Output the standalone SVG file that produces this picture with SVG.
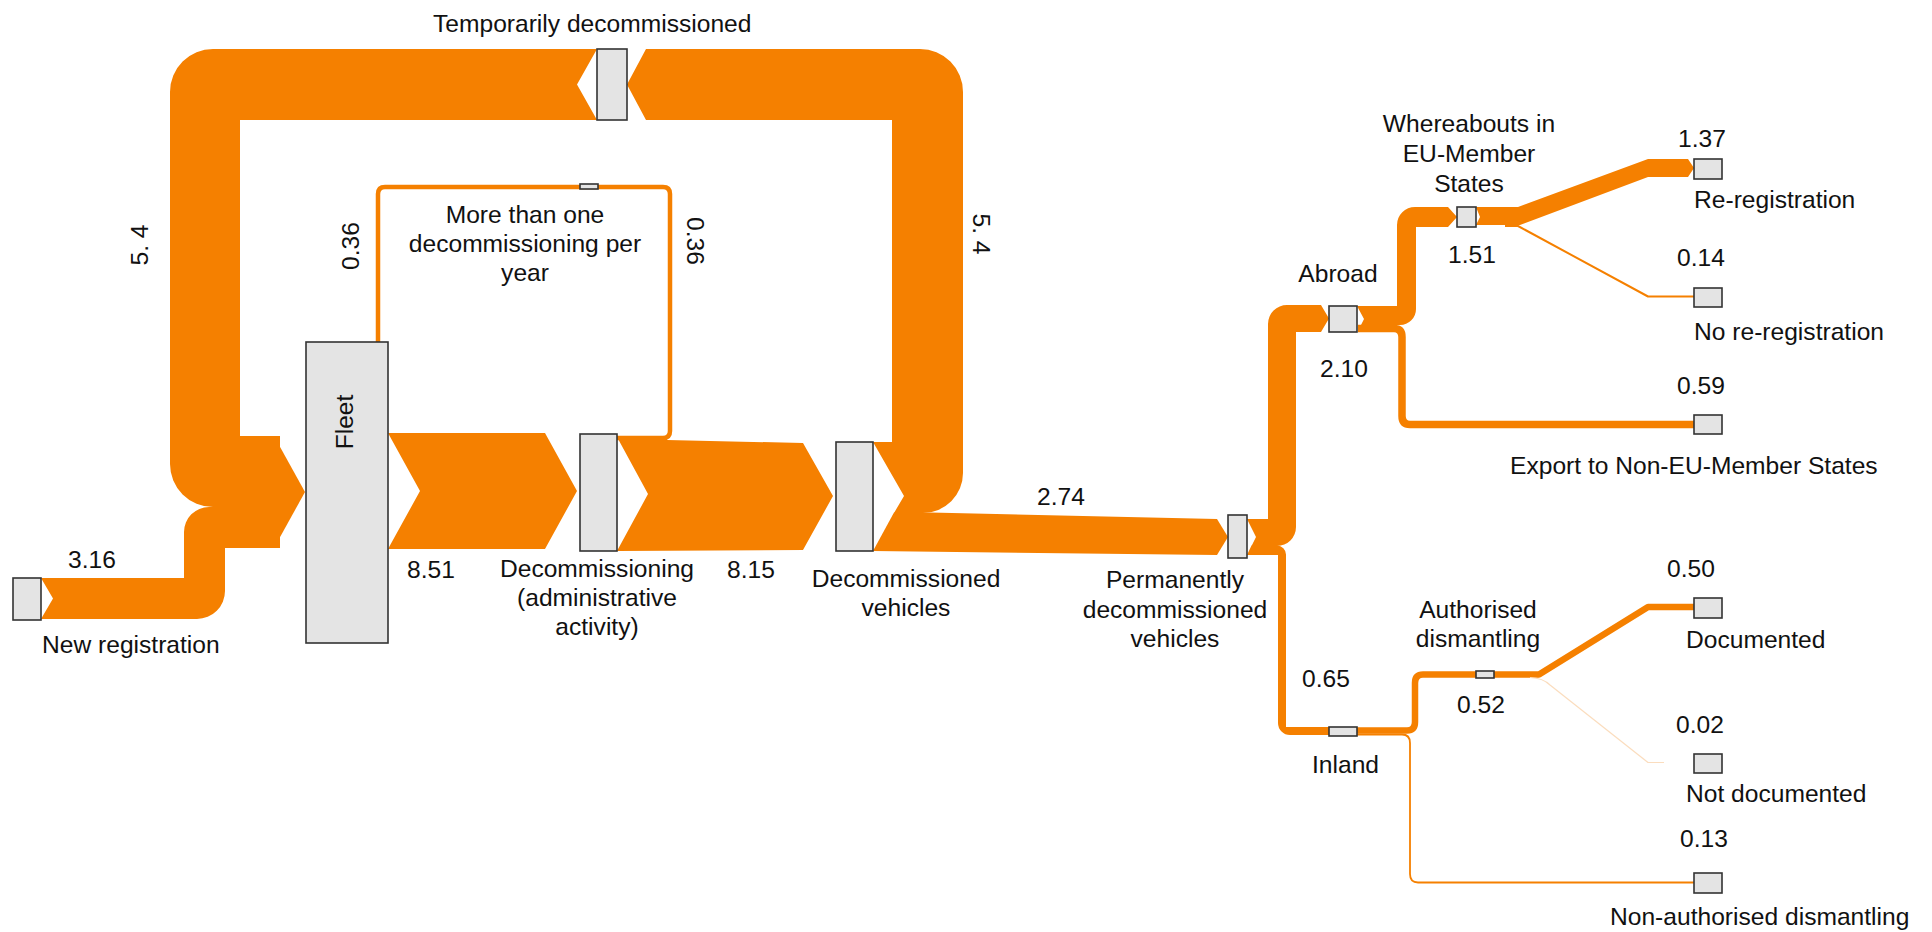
<svg xmlns="http://www.w3.org/2000/svg" width="1932" height="932" viewBox="0 0 1932 932">
  <style>
    .flow { fill: #F58000; stroke: none; }
    .line { fill: none; stroke: #F58000; stroke-linejoin: round; }
    .faint { fill: none; stroke: #FBDDBE; stroke-linejoin: round; }
    .node { fill: #E4E4E4; stroke: #333333; stroke-width: 1.6; }
    text { font-family: "Liberation Sans", Arial, sans-serif; font-size: 24.6px; fill: #111111; }
    .mid { text-anchor: middle; }
  </style>
  <rect width="1932" height="932" fill="#FFFFFF"/>

  <!-- flows, drawn under the nodes -->
  <g id="connectors">
    <!-- Temporarily decommissioned -> Fleet (5.4) -->
    <path class="flow" d="M 597 49 L 213 49 A 43 43 0 0 0 170 92 L 170 464 A 43 43 0 0 0 213 507 L 280 507 L 280 436 L 240 436 L 240 120 L 597 120 L 577 84.5 Z"/>
    <!-- New registration -> Fleet (3.16) -->
    <path class="flow" d="M 41 578 L 184 578 L 184 532 A 25 25 0 0 1 209 507 L 280 507 L 280 548 L 225 548 L 225 591 A 28 28 0 0 1 197 619 L 41 619 L 53 598.5 Z"/>
    <!-- merged arrow head into Fleet -->
    <path class="flow" d="M 272 436 L 274 436 L 305 492 L 274 548 L 272 548 Z"/>
    <!-- Fleet -> Decommissioning (8.51) -->
    <path class="flow" d="M 388 433 L 545 433 L 577 491 L 545 549 L 388 549 L 420 491 Z"/>
    <!-- Decommissioning -> More than one decommissioning per year -> Fleet (0.36) -->
    <path class="line" stroke-width="4.5" d="M 617 438 H 663 Q 670 438 670 431 V 194 Q 670 187 663 187 H 385 Q 378 187 378 194 V 343"/>
    <!-- Decommissioning -> Decommissioned vehicles (8.15) -->
    <path class="flow" d="M 617 437 L 667 437 L 667 440 L 803 443 L 833 496 L 803 550 L 617 551 L 648 494 Z"/>
    <!-- Decommissioned vehicles -> Temporarily decommissioned (5.4) -->
    <path class="flow" d="M 873 442 L 892 442 L 892 120 L 646 120 L 627 84.5 L 646 49 L 920 49 A 43 43 0 0 1 963 92 L 963 473 A 40 40 0 0 1 923 513 L 894 513 L 904 496 Z"/>
    <!-- Decommissioned vehicles -> Permanently decommissioned vehicles (2.74) -->
    <path class="flow" d="M 894 512.5 L 930 512.5 L 1217 519 L 1228 537 L 1217 555 L 873 551 Z"/>
    <!-- Permanently decommissioned -> Abroad (2.10) -->
    <path class="flow" d="M 1247 519 L 1268 519 L 1268 324 A 19 19 0 0 1 1287 305 L 1321 305 L 1329 318.5 L 1321 332 L 1296 332 L 1296 527 A 19 19 0 0 1 1277 546 L 1251.5 546 L 1256 537 Z"/>
    <!-- Permanently decommissioned -> Inland (0.65) -->
    <path class="flow" d="M 1251.5 545.5 L 1277 545.5 A 9 9 0 0 1 1286 554.5 L 1286 727 L 1329 727 L 1329 735 L 1290 735 A 12 12 0 0 1 1278 723 L 1278 555 L 1247 555 Z"/>
    <!-- Abroad -> Whereabouts in EU-Member States (1.51) -->
    <path class="flow" d="M 1357 306 L 1397 306 L 1397 225 A 18 18 0 0 1 1415 207 L 1448 207 L 1457 217 L 1448 227 L 1416 227 L 1416 309 A 16 16 0 0 1 1400 325 L 1361 325 L 1364 319 Z"/>
    <!-- Abroad -> Export to Non-EU-Member States (0.59) -->
    <path class="line" stroke-width="7.5" d="M 1358 328.5 H 1394 Q 1402 328.5 1402 337 V 416 Q 1402 424.5 1410 424.5 H 1694"/>
    <!-- Whereabouts -> Re-registration (1.37) -->
    <path class="flow" d="M 1476 207 L 1518 207 L 1648 159 L 1688 159 L 1694 168 L 1688 177 L 1648 177 L 1520 225 L 1476 225 L 1480 217 Z"/>
    <!-- Whereabouts -> No re-registration (0.14) -->
    <path class="line" stroke-width="2" d="M 1505 226 H 1518 L 1648 296.5 H 1694"/>
    <!-- Inland -> Authorised dismantling (0.52) -->
    <path class="line" stroke-width="6.5" d="M 1357 730.5 H 1407 Q 1415 730.5 1415 722 V 683 Q 1415 674.5 1423 674.5 H 1476"/>
    <!-- Inland -> Non-authorised dismantling (0.13) -->
    <path class="line" stroke-width="1.8" d="M 1357 734.5 H 1402 Q 1410 734.5 1410 743 V 874 Q 1410 882.5 1418 882.5 H 1694"/>
    <!-- Authorised dismantling -> Documented (0.50) -->
    <path class="line" stroke-width="6.5" d="M 1494 674.5 H 1539 L 1648 607 H 1694"/>
    <!-- Authorised dismantling -> Not documented (0.02) -->
    <path class="faint" stroke-width="1.2" d="M 1530 677.5 Q 1543 678 1550 685 L 1648 762.5 H 1664"/>
  </g>

  <!-- nodes -->
  <g id="new-registration">
    <rect class="node" x="13" y="578" width="28" height="42"/>
    <text x="42" y="653">New registration</text>
    <text x="68" y="568">3.16</text>
  </g>
  <g id="fleet">
    <rect class="node" x="306" y="342" width="82" height="301"/>
    <text class="mid" transform="translate(353 422) rotate(-90)">Fleet</text>
    <text x="407" y="578">8.51</text>
  </g>
  <g id="temporarily-decommissioned">
    <rect class="node" x="597" y="49" width="30" height="71"/>
    <text x="433" y="32">Temporarily decommissioned</text>
    <text class="mid" transform="translate(148 245) rotate(-90)">5. 4</text>
    <text class="mid" transform="translate(973 234) rotate(90)">5. 4</text>
  </g>
  <g id="more-than-one">
    <rect class="node" x="580" y="184" width="18" height="5"/>
    <text class="mid" x="525" y="223">More than one</text>
    <text class="mid" x="525" y="252">decommissioning per</text>
    <text class="mid" x="525" y="281">year</text>
    <text class="mid" transform="translate(359 246) rotate(-90)">0.36</text>
    <text class="mid" transform="translate(687 241) rotate(90)">0.36</text>
  </g>
  <g id="decommissioning">
    <rect class="node" x="580" y="434" width="37" height="117"/>
    <text class="mid" x="597" y="577">Decommissioning</text>
    <text class="mid" x="597" y="606">(administrative</text>
    <text class="mid" x="597" y="635">activity)</text>
    <text x="727" y="578">8.15</text>
  </g>
  <g id="decommissioned-vehicles">
    <rect class="node" x="836" y="442" width="37" height="109"/>
    <text class="mid" x="906" y="587">Decommissioned</text>
    <text class="mid" x="906" y="616">vehicles</text>
    <text x="1037" y="505">2.74</text>
  </g>
  <g id="permanently-decommissioned">
    <rect class="node" x="1228" y="515" width="19" height="43"/>
    <text class="mid" x="1175" y="588">Permanently</text>
    <text class="mid" x="1175" y="618">decommissioned</text>
    <text class="mid" x="1175" y="647">vehicles</text>
  </g>
  <g id="abroad">
    <rect class="node" x="1329" y="306" width="28" height="26"/>
    <text class="mid" x="1338" y="282">Abroad</text>
    <text class="mid" x="1344" y="377">2.10</text>
  </g>
  <g id="whereabouts">
    <rect class="node" x="1457" y="207" width="19" height="20"/>
    <text class="mid" x="1469" y="132">Whereabouts in</text>
    <text class="mid" x="1469" y="162">EU-Member</text>
    <text class="mid" x="1469" y="192">States</text>
    <text class="mid" x="1472" y="263">1.51</text>
  </g>
  <g id="re-registration">
    <rect class="node" x="1694" y="159" width="28" height="20"/>
    <text x="1678" y="147">1.37</text>
    <text x="1694" y="208">Re-registration</text>
  </g>
  <g id="no-re-registration">
    <rect class="node" x="1694" y="288" width="28" height="19"/>
    <text x="1677" y="266">0.14</text>
    <text x="1694" y="340">No re-registration</text>
  </g>
  <g id="export">
    <rect class="node" x="1694" y="415" width="28" height="19"/>
    <text x="1677" y="394">0.59</text>
    <text x="1510" y="474">Export to Non-EU-Member States</text>
  </g>
  <g id="inland">
    <rect class="node" x="1329" y="727" width="28" height="9"/>
    <text x="1302" y="687">0.65</text>
    <text x="1312" y="773">Inland</text>
  </g>
  <g id="authorised-dismantling">
    <rect class="node" x="1476" y="671" width="18" height="7"/>
    <text class="mid" x="1478" y="618">Authorised</text>
    <text class="mid" x="1478" y="647">dismantling</text>
    <text class="mid" x="1481" y="713">0.52</text>
  </g>
  <g id="documented">
    <rect class="node" x="1694" y="598" width="28" height="20"/>
    <text x="1667" y="577">0.50</text>
    <text x="1686" y="648">Documented</text>
  </g>
  <g id="not-documented">
    <rect class="node" x="1694" y="754" width="28" height="19"/>
    <text x="1676" y="733">0.02</text>
    <text x="1686" y="802">Not documented</text>
  </g>
  <g id="non-authorised-dismantling">
    <rect class="node" x="1694" y="873" width="28" height="20"/>
    <text x="1680" y="847">0.13</text>
    <text x="1610" y="925">Non-authorised dismantling</text>
  </g>
</svg>
